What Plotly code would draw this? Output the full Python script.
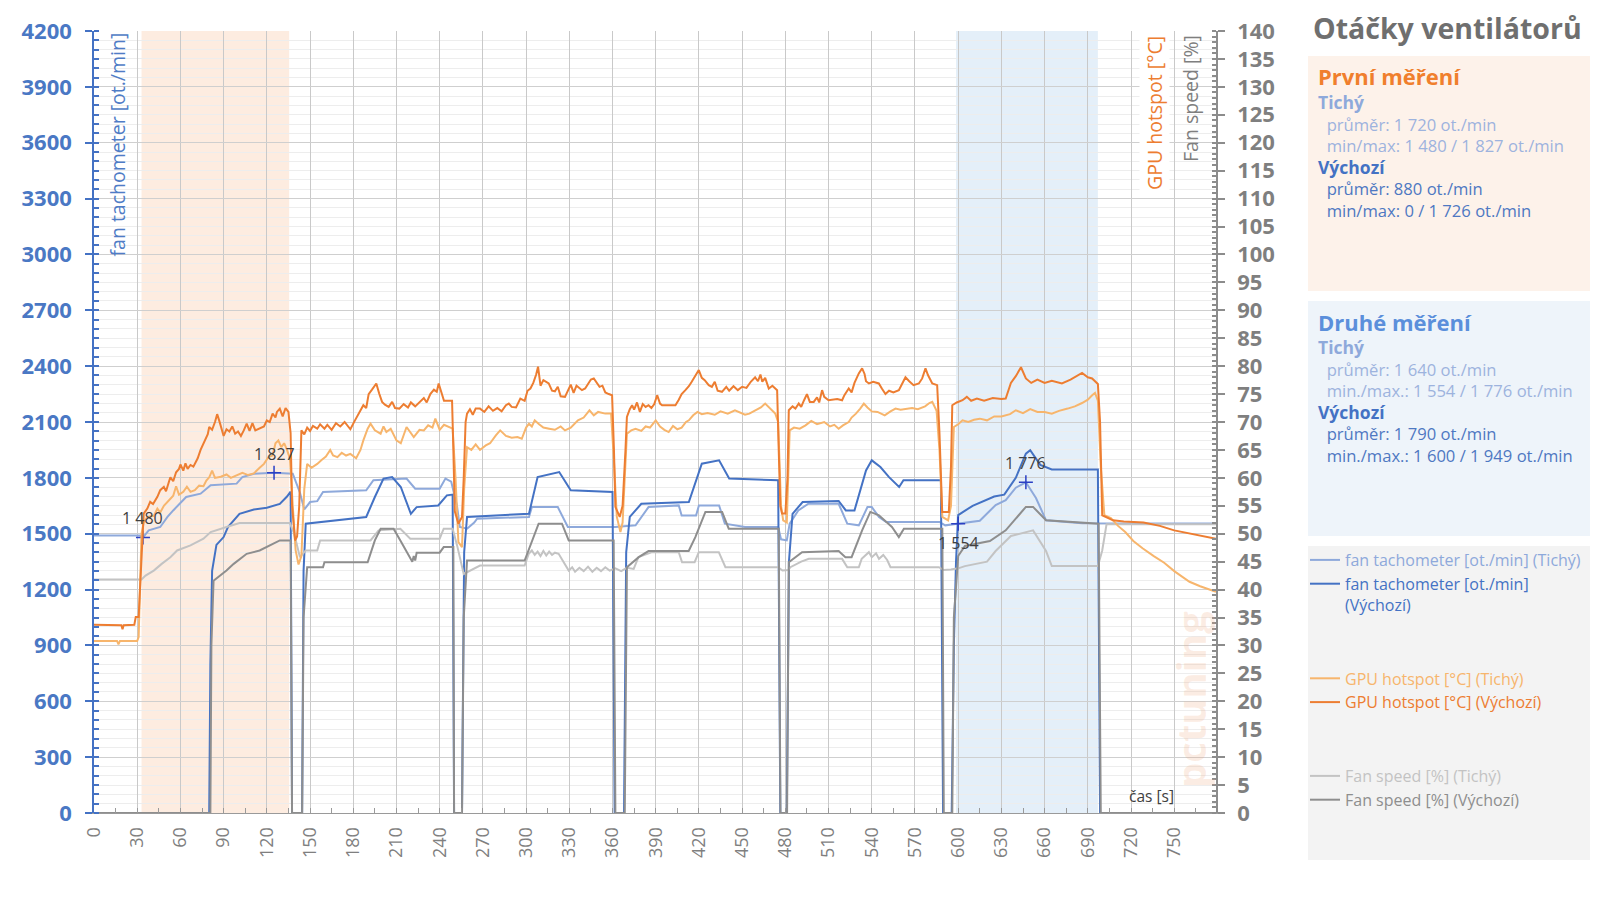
import plotly.graph_objects as go

# ---------------- data: (time [s], value) ----------------
tach_tichy = [(0,1490),(32,1490),(34,1480),(38,1518),(46,1536),(51,1590),(55,1625),(64,1697),(74,1715),(81,1760),
    (99,1769),(103,1804),(111,1822),(125,1827),(138,1822),(143,1720),(146,1630),(150,1670),(155,1675),(159,1724),
    (189,1733),(194,1787),(217,1796),(223,1742),(240,1742),(244,1796),(248,1780),(252,1650),(254,1536),(259,1527),
    (264,1560),(266,1581),(302,1590),(304,1643),(322,1643),(329,1536),(362,1536),(376,1545),(385,1643),(406,1652),
    (408,1598),(418,1598),(420,1652),(434,1652),(438,1554),(452,1536),(475,1536),(477,1470),(481,1464),(483,1554),
    (489,1625),(496,1661),(517,1661),(523,1554),(531,1545),(537,1643),(540,1643),(545,1590),(550,1563),(587,1563),
    (591,1545),(596,1550),(600,1554),(615,1570),(626,1654),(633,1680),(640,1747),(647,1776),(654,1692),(661,1572),
    (686,1556),(698,1556),(700,1555),(779,1555)]

tach_vychozi = [(0,0),(80,0),(80.8,800),(82,1300),(85,1440),(90,1482),(93,1536),(101,1607),(111,1630),(120,1640),
    (129,1660),(134,1700),(136.5,1726),(137.5,0),(144.5,0),(145.5,1300),(147,1554),(166,1572),(189,1590),(195,1697),
    (201,1796),(207,1804),(213,1751),(220,1607),(224,1643),(239,1652),(245,1706),(249,1710),(250,0),(255.5,0),
    (257,1400),(259,1590),(302,1607),(308,1804),(323,1831),(331,1733),(360,1724),(361.5,0),(368,0),(369.5,1400),
    (372,1590),(380,1661),(413,1670),(422,1876),(434,1894),(441,1796),(475,1787),(476.5,0),(481,0),(482.5,1350),
    (485,1607),(492,1670),(517,1676),(522,1625),(528,1625),(536,1840),(540,1894),(546,1858),(552,1804),(559,1751),
    (562,1787),(588,1787),(589.5,0),(595.5,0),(597,900),(598.5,1350),(600,1600),(610,1650),(625,1700),(632,1710),
    (640,1800),(647,1930),(650,1949),(657,1870),(665,1845),(697,1845),(698.5,0),(779,0)]

hot_tichy = [(0,30.8),(16,30.8),(17,30.2),(18,30.8),(30,30.8),(31,31.5),(33,50),(34.5,52),(37,53),(41.5,53.2),
    (44,54.5),(46,53.8),(48.5,55),(52,56),(55,56.8),(57,58.5),(59,57),(62,57.5),(64.5,58.4),(67,57.5),(70,57.8),
    (73,58.6),(76,58.5),(78,59.5),(80,60.1),(82,61.3),(84,60),(88,60.2),(92,60.6),(95,60),(99,60.4),(103,60.9),
    (107,60.5),(111,60.8),(115,61.8),(118,62.5),(121,63.7),(124,64),(126,66.2),(128,66.7),(130,65.5),(132,66.2),
    (134,65),(136,63.5),(138,55),(140,47),(142,44.5),(144,46),(146,58),(148,62.5),(151,61.8),(155,62.5),(158,63.2),
    (161,63.8),(164,65),(166,64),(169,63.7),(172,64.5),(175,64),(178,64.3),(182,63.5),(185,65),(187,66.7),(190,68.8),
    (192,69.7),(195,68.5),(199,67.9),(201,69.2),(203,68.2),(206,68.8),(210,66.7),(213,66.2),(217,69.1),(220,68),
    (222,67.3),(226,68.6),(229,68.5),(232,69.4),(235,69),(237,70.6),(240,68.6),(243,69.5),(246,69.1),(249,68.8),
    (251,60),(253,48.5),(255.5,47.6),(257,58),(259,65.5),(262,65),(265,66),(268,65),(272,65.8),(275,66.2),(279,67.6),
    (282,68.5),(286,67.5),(290,67.2),(294,67.3),(297,67),(300,69),(302,69.7),(304,69.2),(306,70.3),(309,69.6),
    (312,69),(316,68.8),(320,68.6),(324,69.2),(327,68.5),(331,69),(336,70.3),(340,70.8),(344,72.1),(347,71.2),
    (350,71.8),(355,71.5),(359,71.5),(361,63),(363,53),(365.5,50.3),(367,52),(370,67.9),(373,68.5),(376,68.8),
    (380,68.4),(383,69.2),(386,69),(390,70.3),(393,69.2),(396,68.6),(399,68.2),(402,69.3),(405,68.7),(408,69),
    (411,70),(413,70.3),(416,71.2),(419,71.8),(422,71.4),(426,71.6),(431,71.3),(435,71.9),(440,71.5),(445,72.1),
    (449,71.6),(452,71.3),(455,71.5),(459,72),(463,72.6),(466,73.3),(469,72.5),(473,71.5),(475,70),(477,55),
    (478.5,52.4),(481,52),(483,68.5),(486,69),(490,68.8),(494,69.4),(498,70.2),(502,69.6),(507,70),(511,69.2),
    (514,69.5),(517,68.8),(520,69.4),(524,70),(526,70.8),(529,71.5),(532,72.4),(534.5,73.3),(537,72.6),(540,71.9),
    (544,71.8),(549,71.2),(553,71.9),(556.5,72.4),(560,72.2),(564,72.4),(568,72.5),(572,72.3),(577,72.8),(580,73.4),
    (582,73.6),(585,72),(587,65),(589,53),(593,52.4),(595,55),(597,69.1),(600,69.6),(603,70.3),(607,70),(611,70.4),
    (615,70.6),(620,70.3),(625,71),(630,71),(636,71.4),(640,72.1),(645,71.6),(650,72.3),(655,71.8),(660,71.8),
    (665,71.5),(670,72),(676,72.4),(681,72.8),(686,73.4),(690,74),(693,74.8),(695,75.2),(697,73.8),(699,62),
    (701.5,53.3),(706,52.8),(711,51.4),(716,50.3),(721.6,48.7),(728,47.4),(735.8,46),(743,44.8),(750,43.3),
    (756,42.2),(760.6,41.4),(768,40.6),(779,39.6)]

hot_vychozi = [(0,33.7),(10,33.7),(19,33.6),(19.8,32.9),(20.6,33.6),(28,33.7),(29,35.1),(31,35.1),(32,40),(34.5,53.6),
    (37,54.5),(39,55.7),(41,55.3),(44,56.6),(46,57.8),(48.5,58.4),(50,57.6),(53,60.1),(55,59.4),(57,61),(59,61.6),
    (60,62.4),(62,61.3),(63.5,62.6),(65,61.6),(67,62.3),(69,62),(72,63.5),(74,65),(77,66.7),(79,67.8),(80,69.1),
    (82,68.6),(84,70),(85.5,71.4),(87,70.2),(88.5,68.7),(90,67.5),(92,68.7),(94,68.3),(96,69.2),(98,67.9),(100,68.3),
    (102,67.5),(104,68.5),(106,69.7),(108,68.4),(110,69.8),(112,68.5),(115,68.8),(118,69.2),(120,70.3),(122,70),
    (124,71.5),(126,70.8),(127,71.8),(129,72.4),(131,71),(133,72.5),(135,71.8),(136.5,68),(137.5,55),(139.6,48.8),
    (141,49.5),(142.5,55),(144,68.5),(146,67.8),(148,69),(150,68.4),(152,69.3),(155,68.8),(157,69.6),(160,68.8),
    (162,69.5),(165,68.6),(168,69.8),(171,69.2),(174,70),(176,69.3),(178,68.7),(181,70.2),(184,71.5),(187,73),
    (189,72.5),(190.7,75),(193,75.8),(196,76.9),(198,75.1),(200,73.6),(202,73.1),(204.6,72.7),(207,73.6),(209,72.5),
    (212,72.4),(215,73.2),(218,72.6),(220,73.5),(223,72.8),(226,73.6),(229,74.3),(231,73.5),(233.5,75),(236,75.8),
    (238,75.4),(239.3,76.9),(241,75.5),(243,73.8),(246,73.8),(248.6,73.8),(249.5,65),(250.5,54),(253,51.8),
    (255.5,53),(256.7,60),(258,70),(259,71.5),(261,72.3),(263,71.3),(265,72.4),(268,72.4),(271,71.8),(274,72.8),
    (277,72),(280,72.5),(283,71.9),(286,73),(288,73.3),(290,72.7),(293,72.6),(296,74.2),(299,73.8),(301,75.6),
    (303,76),(305,77),(307,78.5),(308.3,79.9),(310,76.5),(312,77.5),(315.7,76.9),(318,75.6),(320,75.5),(322,76.3),
    (324,74.6),(327,74.5),(329,75.6),(331,76.7),(333,75.2),(335,76.5),(338.8,75.7),(341,76),(343,76.8),(345,77.6),
    (347,77.8),(349,77),(351,76.3),(353,76.5),(355,75.3),(357.4,75),(359.7,74.8),(361,65),(362,54.8),(365,53),
    (367,55),(369,65),(370,70.9),(372,72.3),(373.6,73),(375,72.2),(377,73.5),(379,71.8),(381,73.2),(383,72.7),
    (385,73),(387,72.5),(389,73.2),(391,74.8),(393,73.3),(394.4,73),(397,73),(400,73.1),(403.7,73),(406,74),(408,75),
    (410.6,75.7),(413,76.4),(415,77.2),(417,78.1),(419.9,79.3),(422,77.9),(424,77.5),(426.8,76.6),(429,76.3),
    (431,77.2),(433,75.6),(436,75.4),(439,76.3),(441,75.6),(444,76.4),(447,75.7),(450,76.3),(453,76.1),(456,77.2),
    (459,78),(461,77.3),(462.7,78.5),(464,77.2),(466,77.9),(468.5,76),(471,76.5),(474.3,75.7),(475.4,65),(476.5,55),
    (477.7,53.6),(480,53.6),(481.5,60),(482.4,72.1),(485,72.8),(487,72.4),(489.3,73.3),(491,72.7),(493,73.9),(495,75),
    (497,73.6),(499.7,73.6),(502,74.4),(503.5,73.5),(505.5,75.7),(507,74.5),(510,73.9),(513,74),(516,74.1),
    (519.4,73.9),(521,74.8),(524,76),(526,75.3),(528,77),(531,78.7),(533.3,79.6),(535,78.6),(536,77.3),(538,76.9),
    (541,77.2),(544.9,76.9),(547,76),(549.5,75),(552,75.6),(555,75.3),(558.8,75.7),(561,76.8),(563.4,78),(566,77.3),
    (569,76.6),(572.7,76.9),(575,77.8),(577.3,79.6),(579,78.4),(582,76.9),(585.4,76.6),(587,68),(588.9,53.9),
    (593.5,53.9),(595,62),(595.9,73),(599,73.5),(603,73.9),(606,74.5),(609,73.8),(613,74.2),(618,73.8),(624,74.3),
    (630,74.1),(633,74.2),(636.6,77),(640,78.2),(643.6,79.8),(647,77.8),(650.7,77),(655,77.6),(660,77),(665,77.4),
    (672,76.9),(678,77.6),(686,78.8),(690,78),(693,77.8),(697,76.8),(698.5,70),(700,53.3),(707.5,52.4),(715,52.2),
    (728.7,52),(740,51.4),(750,50.6),(762,50),(779,49.1)]

fan_tichy = [(0,41.8),(33,41.8),(35.8,42.5),(41.5,43.4),(47,44.6),(53,45.8),(57.7,47),(67,47.9),(76,49.1),(81,50.3),
    (92,51.2),(101,51.9),(136,51.9),(139,50),(143,45.8),(147,47),(155,47),(157,48.8),(192,48.8),(197.6,50.6),
    (212.7,50.9),(219.6,49.1),(240,49.1),(242.8,50.9),(249,50.9),(252,48),(256.7,42.8),(262,43.5),(266,44),
    (268,44.3),(299,44.3),(301.8,46.4),(304,47),(306,46.2),(308,46.8),(310,46),(312,46.9),(314,46.1),(316,46.8),
    (318,46.2),(320,46.6),(322.6,46.4),(329.6,43.4),(332,44),(334,43.2),(337,43.9),(340,43.3),(343,44.1),(346,43.2),
    (349,43.9),(352,43.3),(355,44),(358,43.4),(362,43.8),(366,43.3),(370,43.9),(374.7,43.7),(378,45.8),(387.5,46.7),
    (406,46.7),(408.3,44.9),(417,44.9),(419.9,46.7),(433.8,46.7),(438.4,44),(475,44),(478,43.4),(482,43.5),
    (483.5,44),(491,45),(496.3,45.5),(519.4,45.5),(523,44),(531,44),(533,45.5),(536,46.2),(538,46.7),(540,45.8),
    (543,46.5),(545,45.5),(548,46.2),(550.7,45.3),(553,44),(586.6,44),(590,43.5),(595,43.6),(600,43.8),(604.7,44.2),
    (620,45),(626,46.9),(636.6,49.6),(652,50.6),(657,48.5),(661,46.9),(665,44.2),(697,44.2),(700,47),(703,51.7),
    (779,51.7)]

fan_vychozi = [(0,0),(80.8,0),(81.5,30),(83,41.6),(92,43.4),(97,44.6),(106,46.4),(115,47),(129,48.8),(136.5,48.8),
    (137.5,0),(144.5,0),(145.5,35),(148,44),(159,44),(160,44.9),(190,44.9),(195,48.8),(199,50.9),(208,50.9),
    (212.7,48.8),(219.6,45.5),(221,45),(222,46),(223,45.2),(224,46.6),(240,46.6),(242.8,47.6),(249.5,47.6),(250,0),
    (255.5,0),(256.7,35),(259,45.2),(299,45.2),(303,48),(308.7,51.8),(324.9,51.8),(329.6,48.8),(360.8,48.8),(362,0),
    (368.5,0),(369.5,35),(370,44),(378.2,45.8),(385,46.9),(412.9,46.9),(417.5,49.4),(424.5,53.9),(436.1,53.9),
    (440.7,50.9),(475.4,50.9),(476.6,0),(481.2,0),(482.4,44.9),(491.6,46.7),(517,46.9),(521.7,45.8),(526,45.8),
    (533.3,50.6),(539,53.9),(545,53.3),(554,51.2),(558.8,49.4),(562.3,50.9),(589,50.9),(590,0),(595.9,0),(597,35),
    (600,46),(604.7,47.8),(622,48.7),(633,50.6),(647,54.8),(652,54.8),(661,52.4),(697.5,51.8),(699,0),(779,0)]

band_first = (33, 135.5)
band_second = (598.5, 697)
point_labels = [(34, 1480, "1 480", 1), (125, 1827, "1 827", 1), (600, 1554, "1 554", -1), (647, 1776, "1 776", 1)]

summary_first = ["průměr: 1 720 ot./min", "min/max: 1 480 / 1 827 ot./min",
                 "průměr: 880 ot./min", "min/max: 0 / 1 726 ot./min"]
summary_second = ["průměr: 1 640 ot./min", "min./max.: 1 554 / 1 776 ot./min",
                  "průměr: 1 790 ot./min", "min./max.: 1 600 / 1 949 ot./min"]

# ---------------- styling ----------------
C_TACH_T = "#8EA9DB"
C_TACH_V = "#4472C4"
C_HOT_T = "#F7B56C"
C_HOT_V = "#ED7D31"
C_FAN_T = "#C3C3C3"
C_FAN_V = "#8E8E8E"
C_TXT_T = "#9DB3DE"
C_TXT_V = "#4E78C2"
FONT = "Open Sans"

# the html body has an 8px margin, so the figure is sized to fit the 1600x899 window
OFF = 8
W, H = 1600 - OFF, 899 - OFF
PX0, PX1, PY0, PY1 = 94, 1216, 31, 813   # plot area in page pixels


def px(X):
    return (X - PX0) / (PX1 - PX0)


def py(Y):
    return (PY1 - Y) / (PY1 - PY0)


def split(pairs):
    return [p[0] for p in pairs], [p[1] for p in pairs]


def lab(text, color):
    return f"<span style='color:{color}'>{text}</span>"


fig = go.Figure()

series = [
    (tach_tichy, "fan tachometer [ot./min] (Tichý)", C_TACH_T, "y", "tach"),
    (tach_vychozi, "fan tachometer [ot./min]<br>(Výchozí)", C_TACH_V, "y", "tach"),
    (hot_tichy, "GPU hotspot [°C] (Tichý)", C_HOT_T, "y2", "hot"),
    (hot_vychozi, "GPU hotspot [°C] (Výchozí)", C_HOT_V, "y2", "hot"),
    (fan_tichy, "Fan speed [%] (Tichý)", C_FAN_T, "y2", "fan"),
    (fan_vychozi, "Fan speed [%] (Výchozí)", C_FAN_V, "y2", "fan"),
]
draw_order = [4, 5, 2, 3, 0, 1]
for i in draw_order:
    pairs, name, color, yax, grp = series[i]
    xs, ys = split(pairs)
    fig.add_trace(go.Scatter(x=xs, y=ys, mode="lines", name=lab(name, color),
                             line=dict(color=color, width=2), yaxis=yax,
                             legendgroup=grp, legendrank=i + 1))

mx = [p[0] for p in point_labels]
my = [p[1] for p in point_labels]
fig.add_trace(go.Scatter(x=mx, y=my, mode="markers", showlegend=False,
                         marker=dict(symbol="cross-thin", size=10, color="#2A3FC4",
                                     line=dict(width=1.5, color="#2A3FC4"))))

annotations = []
for t, v, txt, d in point_labels:
    annotations.append(dict(x=t, y=v, xref="x", yref="y", text=txt, showarrow=False,
                            yshift=19 * d, font=dict(family=FONT, size=16, color="#404040")))

shapes = [
    dict(type="rect", xref="x", yref="paper", x0=band_first[0], x1=band_first[1], y0=0, y1=1,
         fillcolor="rgba(251,224,204,0.6)", line=dict(width=0), layer="below"),
    dict(type="rect", xref="x", yref="paper", x0=band_second[0], x1=band_second[1], y0=0, y1=1,
         fillcolor="rgba(214,230,246,0.65)", line=dict(width=0), layer="below"),
    dict(type="rect", xref="paper", yref="paper", x0=px(1308), x1=px(1590), y0=py(291), y1=py(56),
         fillcolor="#FDF2EA", line=dict(width=0)),
    dict(type="rect", xref="paper", yref="paper", x0=px(1308), x1=px(1590), y0=py(536), y1=py(301),
         fillcolor="#EEF4FA", line=dict(width=0)),
    dict(type="rect", xref="paper", yref="paper", x0=px(1308), x1=px(1590), y0=py(860), y1=py(546),
         fillcolor="#F3F3F3", line=dict(width=0)),
]


def ptext(X, Y, text, size, color, bold=False, xanchor="left"):
    annotations.append(dict(xref="paper", yref="paper", x=px(X), y=py(Y), text=text, showarrow=False,
                            xanchor=xanchor, yanchor="middle", align="left",
                            font=dict(family=FONT, size=size, color=color,
                                      weight="bold" if bold else "normal")))


NB = "\u00a0\u00a0"


def block(lines):
    t1, t2, v1, v2 = lines
    head = "<b><span style='font-size:17.5px;color:{c}'>{t}</span></b>"
    body = NB + "<span style='color:{c}'>{t}</span>"
    return "<br>".join([
        head.format(c=C_TACH_T, t="Tichý"),
        body.format(c=C_TXT_T, t=t1),
        body.format(c=C_TXT_T, t=t2),
        head.format(c=C_TACH_V, t="Výchozí"),
        body.format(c=C_TXT_V, t=v1),
        body.format(c=C_TXT_V, t=v2),
    ])


ptext(1311, 28, "Otáčky ventilátorů", 28.5, "#6F6F6F", bold=True)
ptext(1316, 76, "První měření", 22, "#F07F2D", bold=True)
ptext(1316, 156, block(summary_first), 16.6, C_TXT_T)
ptext(1316, 322, "Druhé měření", 22, "#5B8FDB", bold=True)
ptext(1316, 401, block(summary_second), 16.6, C_TXT_T)

annotations.append(dict(xref="paper", yref="paper", x=px(117.5), y=py(145), text="fan tachometer [ot./min]",
                        textangle=-90, showarrow=False, xanchor="center", yanchor="middle",
                        font=dict(family=FONT, size=19.5, color="#4F7CC6")))
annotations.append(dict(xref="paper", yref="paper", x=px(1154), y=py(113), text="GPU hotspot [°C]",
                        textangle=-90, showarrow=False, xanchor="center", yanchor="middle",
                        bgcolor="white", font=dict(family=FONT, size=19.5, color="#ED7D31")))
annotations.append(dict(xref="paper", yref="paper", x=px(1190), y=py(99), text="Fan speed [%]",
                        textangle=-90, showarrow=False, xanchor="center", yanchor="middle",
                        font=dict(family=FONT, size=19.5, color="#7F7F7F")))
annotations.append(dict(xref="paper", yref="paper", x=px(1151), y=py(796), text="čas [s]",
                        showarrow=False, xanchor="center", yanchor="middle",
                        font=dict(family=FONT, size=15.5, color="#404040")))
annotations.append(dict(xref="paper", yref="paper", x=px(1190), y=py(700), text="pctuning",
                        textangle=-90, showarrow=False, xanchor="center", yanchor="middle",
                        font=dict(family=FONT, size=40, color="rgba(240,170,130,0.22)", weight="bold")))

fig.update_layout(
    width=W, height=H,
    margin=dict(l=PX0 - OFF, r=W - (PX1 - OFF), t=PY0 - OFF, b=H - (PY1 - OFF), autoexpand=False),
    paper_bgcolor="white", plot_bgcolor="white",
    font=dict(family=FONT),
    showlegend=True,
    legend=dict(xref="container", yref="container", x=1297 / W, y=1 - 535 / H,
                xanchor="left", yanchor="top", bgcolor="rgba(0,0,0,0)", valign="top",
                font=dict(family=FONT, size=16), traceorder="grouped", tracegroupgap=50,
                itemwidth=30),
    shapes=shapes,
    annotations=annotations,
    xaxis=dict(range=[0, 779], dtick=30, tick0=0, tickangle=-90, showgrid=True, gridcolor="#C9C9C9",
               gridwidth=1, zeroline=False, showline=True, linecolor="#9A9A9A", linewidth=1,
               ticks="inside", ticklen=5, tickcolor="#9A9A9A", automargin=False,
               minor=dict(dtick=15, ticks="inside", ticklen=5, tickcolor="#9A9A9A", showgrid=False),
               tickfont=dict(family=FONT, size=18, color="#7F7F7F"), ticklabelstandoff=6),
    yaxis=dict(range=[0, 4200], dtick=300, tick0=0, showgrid=True, gridcolor="#CFCFCF", gridwidth=1,
               zeroline=False, showline=True, linecolor="#4472C4", linewidth=1.5, automargin=False,
               ticks="outside", ticklen=7, tickcolor="#4472C4", tickwidth=1.5,
               minor=dict(dtick=50, ticks="inside", ticklen=5, tickcolor="#4472C4", showgrid=True,
                          gridcolor="#EDEDED"),
               tickfont=dict(family=FONT, size=22, color="#4A78C4", weight="bold"), ticklabelstandoff=9),
    yaxis2=dict(range=[0, 140], dtick=5, tick0=0, overlaying="y", side="right", showgrid=False,
                zeroline=False, showline=True, linecolor="#8C8C8C", linewidth=1.5, automargin=False,
                ticks="outside", ticklen=7, tickcolor="#8C8C8C", tickwidth=1.5,
                minor=dict(dtick=1, ticks="inside", ticklen=4, tickcolor="#8C8C8C"),
                tickfont=dict(family=FONT, size=22, color="#7F7F7F", weight="bold"), ticklabelstandoff=8),
)

fig.write_html("out.html")
